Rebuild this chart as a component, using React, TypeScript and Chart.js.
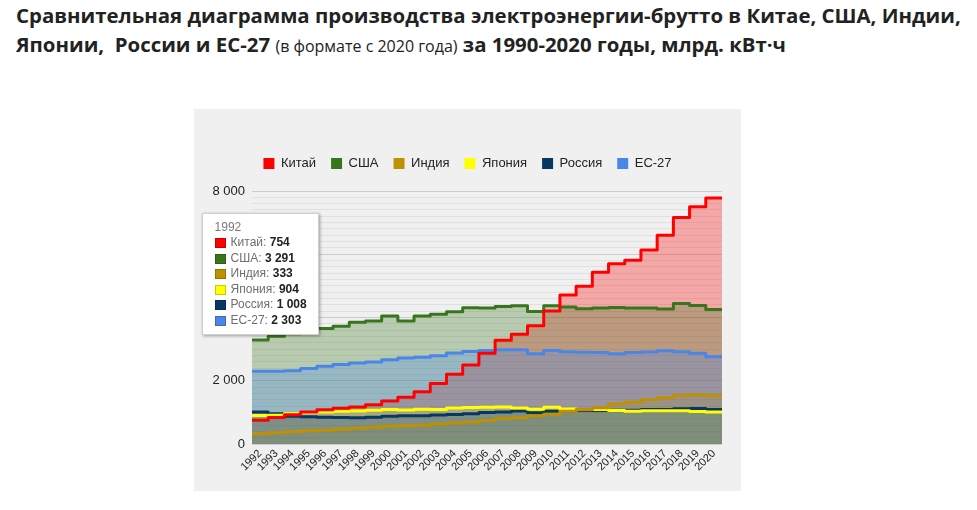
import React, { useEffect, useRef } from 'react';
import { Chart, registerables } from 'chart.js';

Chart.register(...registerables);

// ---- data ----
const years = [
  1992, 1993, 1994, 1995, 1996, 1997, 1998, 1999, 2000, 2001, 2002, 2003, 2004, 2005, 2006,
  2007, 2008, 2009, 2010, 2011, 2012, 2013, 2014, 2015, 2016, 2017, 2018, 2019, 2020,
];
const china = [
  754, 840, 928, 1008, 1081, 1134, 1167, 1239, 1356, 1481, 1654, 1911, 2203, 2500, 2866,
  3282, 3467, 3742, 4207, 4713, 4988, 5432, 5700, 5810, 6133, 6604, 7166, 7503, 7779,
];
const usa = [
  3291, 3410, 3490, 3570, 3650, 3720, 3850, 3890, 4050, 3890, 4050, 4100, 4180, 4310, 4300,
  4350, 4370, 4190, 4370, 4330, 4280, 4300, 4320, 4300, 4300, 4270, 4440, 4380, 4250,
];
const india = [
  333, 358, 391, 417, 435, 463, 495, 531, 561, 579, 596, 633, 667, 699, 744,
  803, 829, 896, 940, 1034, 1092, 1147, 1262, 1319, 1403, 1462, 1542, 1559, 1533,
];
const japan = [
  904, 906, 964, 990, 1009, 1037, 1046, 1066, 1092, 1075, 1097, 1094, 1137, 1158, 1161,
  1170, 1140, 1100, 1164, 1108, 1094, 1088, 1062, 1034, 1051, 1054, 1053, 1030, 1008,
];
const russia = [
  1008, 957, 876, 860, 847, 834, 827, 846, 878, 891, 891, 916, 932, 953, 996,
  1015, 1040, 992, 1038, 1055, 1069, 1059, 1064, 1068, 1091, 1091, 1115, 1121, 1090,
];
const eu27 = [
  2303, 2303, 2320, 2390, 2457, 2510, 2560, 2590, 2667, 2720, 2740, 2790, 2875, 2928, 2960,
  2980, 2980, 2855, 2960, 2920, 2900, 2890, 2855, 2890, 2910, 2945, 2920, 2868, 2761,
];
const seriesNames = ['Китай', 'США', 'Индия', 'Япония', 'Россия', 'ЕС-27'];
const seriesValues = [china, usa, india, japan, russia, eu27];
const seriesColors = ['#ff0000', '#38761d', '#bf9000', '#ffff00', '#073763', '#4a86e8'];
const yMin = 0;
const yMax = 8000;
const yMinorStep = 200;
const yMajorStep = 2000;
const focusYear = 1992;

const FONT = "'Liberation Sans', Arial, Helvetica, sans-serif";
const TITLE_FONT = "'Open Sans', 'Noto Sans', Arial, sans-serif";

function fmt(v: number): string {
  return String(Math.round(v)).replace(/\B(?=(\d{3})+(?!\d))/g, '\u00a0');
}

function rgba(hex: string, a: number): string {
  const n = parseInt(hex.slice(1), 16);
  return `rgba(${(n >> 16) & 255},${(n >> 8) & 255},${n & 255},${a})`;
}

function darker(hex: string): string {
  const n = parseInt(hex.slice(1), 16);
  const f = (c: number) => Math.round(c * 0.8);
  return `rgb(${f((n >> 16) & 255)},${f((n >> 8) & 255)},${f(n & 255)})`;
}

function stepPoints(values: number[]) {
  const pts = values.map((v, i) => ({ x: years[i] - 0.5, y: v }));
  pts.push({ x: years[years.length - 1] + 0.5, y: values[values.length - 1] });
  return pts;
}

export default function App() {
  const canvasRef = useRef<HTMLCanvasElement | null>(null);
  const tipRef = useRef<HTMLDivElement | null>(null);

  useEffect(() => {
    if (!canvasRef.current) return;
    Chart.defaults.font.family = FONT;
    const n = seriesNames.length;

    const legendHeight = {
      id: 'legendHeight',
      beforeInit(chart: any) {
        const legend = chart.legend;
        if (!legend) return;
        const orig = legend.fit;
        legend.fit = function () {
          orig.call(this);
          this.height = 49;
        };
      },
    };

    const external = (ctx: any) => {
      const { chart, tooltip } = ctx;
      const el = tipRef.current;
      if (!el) return;
      if (tooltip.opacity === 0 || !tooltip.dataPoints || !tooltip.dataPoints.length) {
        el.style.display = 'none';
        return;
      }
      const idx = tooltip.dataPoints[0].dataIndex;
      const year = years[idx];
      let html = `<div style="color:#7a7a7a;">${year}</div>`;
      tooltip.dataPoints.forEach((dp: any) => {
        const c = seriesColors[dp.datasetIndex];
        html +=
          `<div style="display:flex;align-items:center;white-space:nowrap;">` +
          `<span style="display:inline-block;width:11px;height:10px;box-sizing:border-box;background:${c};border:1px solid ${darker(c)};margin-right:5px;"></span>` +
          `<span style="color:#6e6e6e;">${dp.dataset.label}:&nbsp;</span>` +
          `<b style="color:#222;">${fmt(dp.raw.y)}</b></div>`;
      });
      el.innerHTML = html;
      el.style.display = 'block';
      const x = chart.scales.x.getPixelForValue(year);
      const topY = Math.min(
        ...tooltip.dataPoints.map((dp: any) => chart.scales.y.getPixelForValue(dp.raw.y)),
      );
      el.style.left = `${x - el.offsetWidth / 2}px`;
      el.style.top = `${topY - el.offsetHeight - 4}px`;
    };

    // line datasets (China on top), then area datasets (EU area drawn last)
    const lineSets = seriesNames.map((name, i) => ({
      label: name,
      data: stepPoints(seriesValues[i]),
      borderColor: seriesColors[i],
      backgroundColor: seriesColors[i],
      borderWidth: 3,
      borderJoinStyle: 'round' as const,
      borderCapStyle: 'round' as const,
      stepped: true,
      fill: false,
      pointRadius: 0,
      pointHoverRadius: 0,
      order: i,
    }));
    const areaSets = seriesNames.map((name, i) => ({
      label: name + ' (area)',
      data: stepPoints(seriesValues[i]),
      borderColor: 'rgba(0,0,0,0)',
      backgroundColor: rgba(seriesColors[i], 0.3),
      borderWidth: 0,
      stepped: true,
      fill: 'origin',
      pointRadius: 0,
      pointHoverRadius: 0,
      order: 100 + (n - 1 - i),
    }));

    const chart = new Chart(canvasRef.current, {
      type: 'line',
      data: { datasets: [...lineSets, ...areaSets] },
      options: {
        responsive: false,
        animation: false,
        events: [],
        layout: { padding: { top: 33, left: 19, right: 19, bottom: 0 } },
        scales: {
          x: {
            type: 'linear',
            min: years[0] - 0.5,
            max: years[years.length - 1] + 0.5,
            afterBuildTicks: (axis: any) => {
              axis.ticks = years.map((y) => ({ value: y }));
            },
            afterFit: (scale: any) => {
              scale.height = 47;
            },
            grid: { display: false, drawTicks: false },
            border: { display: false },
            ticks: {
              autoSkip: false,
              maxRotation: 45,
              minRotation: 45,
              padding: 3,
              color: '#222',
              font: { size: 11, family: FONT },
              callback: (v: any) => String(v),
            },
          },
          y: {
            min: yMin,
            max: yMax,
            afterFit: (scale: any) => {
              scale.width = 39;
            },
            grid: {
              drawTicks: false,
              color: (c: any) =>
                c.tick && c.tick.value % yMajorStep === 0 ? '#cccccc' : '#e0e0e0',
            },
            border: { display: false },
            ticks: {
              stepSize: yMinorStep,
              autoSkip: false,
              padding: 7,
              color: '#222',
              font: { size: 13, family: FONT },
              callback: (v: any) => (Number(v) % yMajorStep === 0 ? fmt(Number(v)) : ''),
            },
          },
        },
        plugins: {
          filler: { drawTime: 'beforeDatasetsDraw' },
          legend: {
            position: 'top',
            labels: {
              boxWidth: 11,
              boxHeight: 11,
              padding: 15,
              color: '#222',
              font: { size: 13, family: FONT },
              generateLabels: () =>
                seriesNames.map((name, i) => ({
                  text: name,
                  fillStyle: seriesColors[i],
                  strokeStyle: seriesColors[i],
                  lineWidth: 0,
                  hidden: false,
                  datasetIndex: i,
                  fontColor: '#222',
                })),
            },
          },
          tooltip: {
            enabled: false,
            external,
          },
        },
      } as any,
      plugins: [legendHeight],
    });

    const idx = years.indexOf(focusYear);
    chart.tooltip!.setActiveElements(
      seriesNames.map((_, i) => ({ datasetIndex: i, index: idx })),
      { x: 0, y: 0 },
    );
    chart.update();

    return () => {
      chart.destroy();
    };
  }, []);

  return (
    <div style={{ position: 'relative', width: 961, height: 494 }}>
      <div
        style={{
          position: 'absolute',
          left: 8,
          top: -7,
          whiteSpace: 'nowrap',
          fontFamily: TITLE_FONT,
          fontWeight: 'bold',
          fontSize: 20.4,
          lineHeight: '28.5px',
          color: '#222',
        }}
      >
        Сравнительная диаграмма производства электроэнергии-брутто в Китае, США, Индии,
        <br />
        Японии,&nbsp; России и ЕС-27{' '}
        <span style={{ fontWeight: 'normal', fontSize: 16 }}>(в формате с 2020 года)</span> за
        1990-2020 годы, млрд. кВт·ч
      </div>
      <div
        style={{
          position: 'absolute',
          left: 186,
          top: 101,
          width: 547,
          height: 382,
          background: '#f0f0f0',
        }}
      >
        <canvas ref={canvasRef} width={547} height={382} style={{ display: 'block' }} />
        <div
          ref={tipRef}
          style={{
            position: 'absolute',
            display: 'none',
            background: '#fff',
            border: '1px solid #cfcfcf',
            boxShadow: '1px 1px 3px rgba(0,0,0,0.35)',
            padding: '6px 11px 6px 12px',
            fontFamily: FONT,
            fontSize: 12,
            lineHeight: '15.5px',
            color: '#222',
          }}
        />
      </div>
    </div>
  );
}
